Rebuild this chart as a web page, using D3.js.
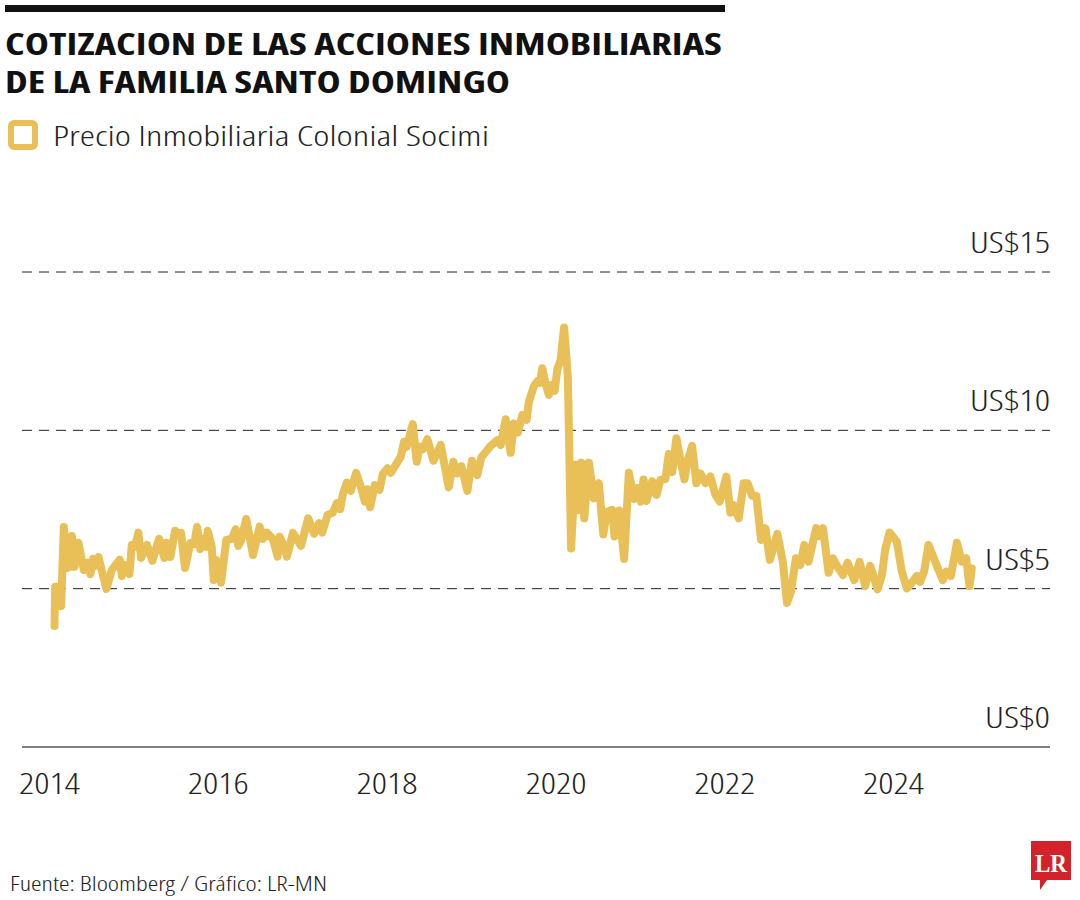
<!DOCTYPE html>
<html><head><meta charset="utf-8">
<script src="https://cdn.jsdelivr.net/npm/d3@7"></script>
<style>body{margin:0;background:#fff} svg{display:block}</style>
</head><body>
<svg id="chart" width="1080" height="900"></svg>
<script>
const titleLines = ["COTIZACION DE LAS ACCIONES INMOBILIARIAS", "DE LA FAMILIA SANTO DOMINGO"];
const seriesName = "Precio Inmobiliaria Colonial Socimi";
const sourceText = "Fuente: Bloomberg / Gráfico: LR-MN";
const yTicks = [0, 5, 10, 15];
const yTickLabels = ["US$0", "US$5", "US$10", "US$15"];
const xTicks = [2014, 2016, 2018, 2020, 2022, 2024];
const xTickLabels = ["2014", "2016", "2018", "2020", "2022", "2024"];
// dates as decimal years
const dates = [
2014.059,2014.067,2014.099,2014.138,2014.170,2014.209,2014.225,2014.249,2014.265,2014.296,
2014.343,2014.407,2014.454,2014.485,2014.517,2014.541,2014.580,2014.675,2014.738,2014.833,
2014.857,2014.888,2014.947,2014.975,2015.014,2015.053,2015.085,2015.156,2015.219,2015.298,
2015.361,2015.385,2015.432,2015.488,2015.527,2015.559,2015.606,2015.669,2015.716,2015.748,
2015.787,2015.827,2015.858,2015.875,2015.922,2015.946,2015.976,2016.032,2016.095,2016.159,
2016.206,2016.237,2016.269,2016.331,2016.411,2016.490,2016.529,2016.576,2016.647,2016.703,
2016.727,2016.781,2016.813,2016.884,2016.979,2017.065,2017.136,2017.195,2017.231,2017.295,
2017.357,2017.405,2017.444,2017.476,2017.523,2017.570,2017.633,2017.689,2017.736,2017.768,
2017.799,2017.854,2017.910,2017.949,2018.005,2018.044,2018.103,2018.162,2018.201,2018.233,
2018.304,2018.351,2018.383,2018.422,2018.478,2018.549,2018.588,2018.636,2018.730,2018.786,
2018.833,2018.880,2018.951,2019.006,2019.070,2019.117,2019.188,2019.227,2019.307,2019.346,
2019.405,2019.464,2019.503,2019.550,2019.602,2019.653,2019.680,2019.740,2019.787,2019.811,
2019.839,2019.878,2019.917,2019.946,2019.985,2020.017,2020.056,2020.097,2020.142,2020.180,
2020.233,2020.260,2020.301,2020.336,2020.391,2020.450,2020.509,2020.561,2020.604,2020.667,
2020.694,2020.751,2020.809,2020.864,2020.928,2020.973,2021.008,2021.038,2021.073,2021.141,
2021.192,2021.239,2021.298,2021.337,2021.378,2021.428,2021.476,2021.523,2021.562,2021.614,
2021.665,2021.712,2021.772,2021.831,2021.890,2021.941,2022.020,2022.067,2022.107,2022.166,
2022.225,2022.272,2022.324,2022.375,2022.431,2022.482,2022.535,2022.624,2022.689,2022.738,
2022.786,2022.843,2022.896,2022.943,2022.994,2023.053,2023.085,2023.124,2023.164,2023.231,
2023.283,2023.337,2023.401,2023.456,2023.535,2023.598,2023.665,2023.724,2023.811,2023.863,
2023.902,2023.953,2024.040,2024.099,2024.158,2024.218,2024.277,2024.316,2024.363,2024.414,
2024.473,2024.533,2024.585,2024.624,2024.680,2024.751,2024.810,2024.861,2024.900,2024.928
];
const prices = [
3.82,5.06,5.05,4.45,6.95,5.65,6.44,5.69,6.66,5.69,
6.45,5.59,5.82,5.46,5.94,5.72,6.00,4.99,5.59,5.91,
5.40,5.75,5.46,6.38,6.32,6.77,5.97,6.38,5.88,6.57,
5.97,6.45,6.00,6.83,6.73,6.76,5.65,6.44,6.41,6.95,
6.25,6.57,6.32,6.83,6.33,5.27,5.91,5.19,6.54,6.57,
6.88,6.35,6.51,7.20,6.06,6.96,6.57,6.77,6.57,6.01,
6.64,6.33,6.01,6.76,6.35,7.22,6.73,7.07,6.77,7.33,
7.40,7.70,7.51,7.99,8.35,8.09,8.66,8.22,7.75,8.14,
7.57,8.27,8.12,8.62,8.80,8.66,8.91,9.17,9.64,9.48,
10.20,9.01,9.48,9.40,9.72,9.04,9.27,9.54,8.20,9.01,
8.64,8.87,8.09,9.04,8.59,9.15,9.38,9.51,9.69,9.54,
10.35,9.29,10.22,9.93,10.48,10.33,10.90,11.40,11.57,11.50,
11.96,11.46,11.12,11.43,11.25,11.93,12.22,13.25,11.69,6.27,
8.91,7.48,8.98,7.22,8.98,7.85,8.33,6.71,7.42,7.49,
6.65,7.47,5.94,8.66,7.83,8.18,7.75,8.45,7.77,8.39,
7.96,8.44,8.46,9.25,8.68,9.75,9.06,8.45,9.06,9.51,
8.33,8.64,8.33,8.54,7.96,7.75,8.54,7.40,7.64,7.22,
8.33,8.33,7.93,7.93,6.54,6.91,5.91,6.73,5.84,4.55,
4.91,5.96,5.75,6.38,5.85,6.56,6.91,6.66,6.91,5.50,
5.96,5.69,5.43,5.82,5.27,5.85,5.08,5.72,4.98,5.43,
6.24,6.77,6.48,5.54,5.01,5.19,5.40,5.22,5.54,6.38,
5.99,5.59,5.27,5.54,5.40,6.45,5.85,5.96,5.08,5.64
];

const lineColor = "#E9BF57";
const LIGHT = "'Open Sans', 'Liberation Sans Narrow', sans-serif";
const BOLD = "'Liberation Sans Narrow', 'Open Sans', sans-serif";

const svg = d3.select("#chart");
const data = dates.map((d, i) => ({t: d, v: prices[i]}));

const x = d3.scaleLinear().domain([2014, 2024]).range([49.5, 893.5]);
const y = d3.scaleLinear().domain([0, 15]).range([747, 272]);

// top bar
svg.append("rect").attr("x", 5).attr("y", 5).attr("width", 720).attr("height", 7).attr("fill", "#111");

// title
svg.selectAll("text.title").data(titleLines).enter().append("text")
  .attr("class", "title")
  .attr("x", 5).attr("y", (d, i) => 55 + i * 38)
  .attr("font-family", BOLD).attr("font-weight", 700)
  .style("font-stretch", "condensed")
  .attr("font-size", 30).attr("fill", "#111")
  .attr("textLength", (d, i) => i === 0 ? 717 : 505)
  .attr("lengthAdjust", "spacingAndGlyphs")
  .text(d => d);

// legend
svg.append("rect").attr("x", 11).attr("y", 123).attr("width", 24).attr("height", 24)
  .attr("rx", 3).attr("fill", "none").attr("stroke", lineColor).attr("stroke-width", 6);
svg.append("text").attr("x", 53).attr("y", 146)
  .attr("font-family", LIGHT).attr("font-weight", 300).style("font-stretch", "condensed")
  .attr("font-size", 28).attr("fill", "#222")
  .attr("textLength", 436).attr("lengthAdjust", "spacingAndGlyphs")
  .text(seriesName);

// gridlines
const yLabelWidths = [65, 65, 80, 80];
const grid = svg.append("g");
grid.selectAll("line").data(yTicks).enter().append("line")
  .attr("x1", 22).attr("x2", 1050)
  .attr("y1", d => y(d)).attr("y2", d => y(d))
  .attr("stroke", d => d === 0 ? "#555" : "#222")
  .attr("stroke-width", d => d === 0 ? 1.5 : 1)
  .attr("stroke-dasharray", d => d === 0 ? null : "10,7");
grid.selectAll("text").data(yTicks).enter().append("text")
  .attr("x", 1050).attr("y", d => y(d) - 19)
  .attr("text-anchor", "end")
  .attr("font-family", LIGHT).attr("font-weight", 300).style("font-stretch", "condensed")
  .attr("font-size", 30).attr("fill", "#222")
  .attr("textLength", (d, i) => yLabelWidths[i]).attr("lengthAdjust", "spacingAndGlyphs")
  .text((d, i) => yTickLabels[i]);

// x labels
svg.append("g").selectAll("text").data(xTicks).enter().append("text")
  .attr("x", d => x(d)).attr("y", 794)
  .attr("text-anchor", "middle")
  .attr("font-family", LIGHT).attr("font-weight", 300).style("font-stretch", "condensed")
  .attr("font-size", 30).attr("fill", "#222")
  .attr("textLength", 61).attr("lengthAdjust", "spacingAndGlyphs")
  .text((d, i) => xTickLabels[i]);

// line
const line = d3.line().x(d => x(d.t)).y(d => y(d.v));
svg.append("path").datum(data)
  .attr("d", line)
  .attr("fill", "none").attr("stroke", lineColor)
  .attr("stroke-width", 8).attr("stroke-linejoin", "round").attr("stroke-linecap", "round");

// source
svg.append("text").attr("x", 10).attr("y", 891)
  .attr("font-family", LIGHT).attr("font-weight", 300).style("font-stretch", "condensed")
  .attr("font-size", 20).attr("fill", "#222")
  .attr("textLength", 317).attr("lengthAdjust", "spacingAndGlyphs")
  .text(sourceText);

// LR logo
const logo = svg.append("g");
logo.append("path")
  .attr("d", "M1031,841 H1071 V880 H1047 L1040,890 L1040,880 H1031 Z")
  .attr("fill", "#D3222A");
logo.append("text").attr("x", 1051).attr("y", 872).attr("text-anchor", "middle")
  .attr("font-family", "'Liberation Serif', 'DejaVu Serif', serif").attr("font-weight", 700)
  .attr("font-size", 26).attr("fill", "#fff")
  .attr("textLength", 32).attr("lengthAdjust", "spacingAndGlyphs")
  .text("LR");
</script>
</body></html>
